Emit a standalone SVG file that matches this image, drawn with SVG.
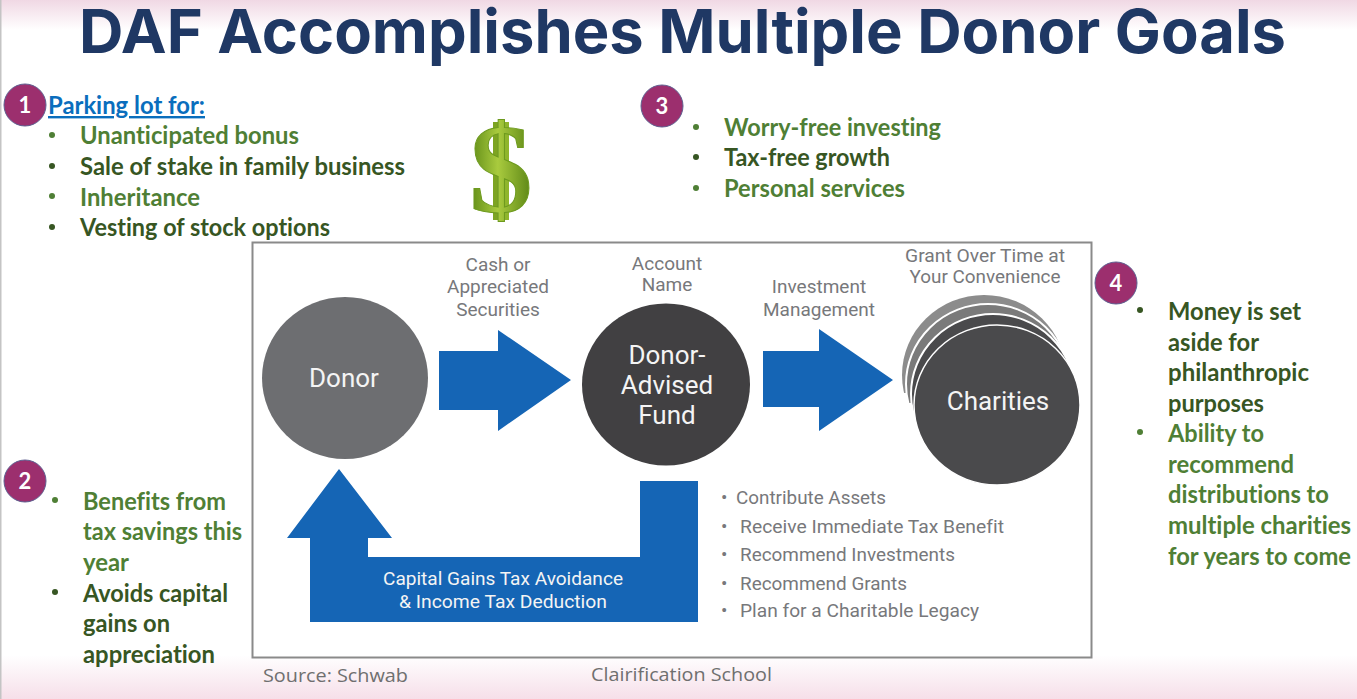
<svg xmlns="http://www.w3.org/2000/svg" width="1357" height="699" viewBox="0 0 1357 699">
<defs>
<linearGradient id="top" x1="0" y1="0" x2="0" y2="1"><stop offset="0" stop-color="#f0d8e4"/><stop offset="1" stop-color="#ffffff"/></linearGradient>
<linearGradient id="bot" x1="0" y1="0" x2="0" y2="1"><stop offset="0" stop-color="#ffffff"/><stop offset="1" stop-color="#f6dfe9"/></linearGradient>
<linearGradient id="gold" x1="0" y1="0" x2="1" y2="0"><stop offset="0" stop-color="#5e8a16"/><stop offset=".45" stop-color="#a9cb3e"/><stop offset="1" stop-color="#5a8414"/></linearGradient>
<clipPath id="c1"><rect x="890" y="285" width="200" height="108"/></clipPath>
<clipPath id="c2"><rect x="890" y="285" width="200" height="118"/></clipPath>
<clipPath id="c3"><rect x="890" y="285" width="200" height="127"/></clipPath>
<style>
text{font-variant-ligatures:none}
.b{font-family:"Lato","Noto Sans",sans-serif;font-weight:700;font-size:24px}
.l{fill:#4f7f35}.d{fill:#375623}
.num{font-family:"Lato","Noto Sans",sans-serif;font-weight:700;font-size:22px;fill:#fff;text-anchor:middle}
.badge{fill:#9c2f6e;stroke:#5f5f90;stroke-width:1}
.g{font-family:"Roboto","Liberation Sans",sans-serif;font-size:19px;fill:#77787b}
.w{font-family:"Roboto","Liberation Sans",sans-serif;fill:#f4f4f4}
.arrow{fill:#1565b5}
.src{font-family:"Open Sans","Noto Sans",sans-serif;font-size:19px;fill:#6f6f6f}
</style>
</defs>
<rect width="1357" height="699" fill="#fff"/>
<rect width="1357" height="30" fill="url(#top)"/>
<rect y="655" width="1357" height="44" fill="url(#bot)"/>
<rect x="0" y="0" width="1.5" height="699" fill="#c4c4c4"/>
<text x="79" y="53" font-family="Inter,'Noto Sans',sans-serif" font-weight="700" font-size="61" fill="#1f3864" textLength="1207" lengthAdjust="spacingAndGlyphs">DAF Accomplishes Multiple Donor Goals</text>

<g id="box"><rect x="252.500" y="242.500" width="839" height="415" fill="#fff" stroke="#8a8a8a" stroke-width="2"/></g>

<g id="badge-1"><circle class="badge" cx="25" cy="105" r="21"/><text class="num" x="25" y="113">1</text></g>
<g id="badge-2"><circle class="badge" cx="25" cy="481" r="21"/><text class="num" x="25" y="489">2</text></g>
<g id="badge-3"><circle class="badge" cx="662" cy="106" r="21"/><text class="num" x="662" y="114">3</text></g>
<g id="badge-4"><circle class="badge" cx="1116" cy="283" r="21"/><text class="num" x="1116" y="291">4</text></g>

<g id="list-1">
<text class="b" x="48" y="114" fill="#0a6ebd" text-decoration="underline" textLength="157" lengthAdjust="spacingAndGlyphs">Parking lot for:</text>
<circle class="l" cx="52" cy="135" r="3"/><text class="b l" x="80" y="144" textLength="219" lengthAdjust="spacingAndGlyphs">Unanticipated bonus</text>
<circle class="d" cx="52" cy="166" r="3"/><text class="b d" x="80" y="175" textLength="325" lengthAdjust="spacingAndGlyphs">Sale of stake in family business</text>
<circle class="l" cx="52" cy="196" r="3"/><text class="b l" x="80" y="206" textLength="120" lengthAdjust="spacingAndGlyphs">Inheritance</text>
<circle class="d" cx="52" cy="227" r="3"/><text class="b d" x="80" y="236" textLength="250" lengthAdjust="spacingAndGlyphs">Vesting of stock options</text>
</g>

<g id="dollar">
<rect x="493" y="122" width="5" height="98" fill="#7da422"/>
<rect x="503" y="122" width="6" height="98" fill="#8fb52c"/>
<text x="501" y="212" text-anchor="middle" font-family="'Liberation Serif',serif" font-weight="700" font-size="126" fill="url(#gold)" stroke="#6d9a1e" stroke-width="1">$</text></g>

<g id="list-3">
<circle class="l" cx="696" cy="127" r="3"/><text class="b l" x="724" y="136" textLength="217" lengthAdjust="spacingAndGlyphs">Worry-free investing</text>
<circle class="d" cx="696" cy="157" r="3"/><text class="b d" x="724" y="166" textLength="166" lengthAdjust="spacingAndGlyphs">Tax-free growth</text>
<circle class="l" cx="696" cy="188" r="3"/><text class="b l" x="724" y="197" textLength="181" lengthAdjust="spacingAndGlyphs">Personal services</text>
</g>

<g id="list-4">
<circle class="d" cx="1140" cy="310" r="3"/>
<text class="b d" x="1168" y="320" textLength="133" lengthAdjust="spacingAndGlyphs">Money is set</text>
<text class="b d" x="1168" y="351" textLength="91" lengthAdjust="spacingAndGlyphs">aside for</text>
<text class="b d" x="1168" y="381" textLength="141" lengthAdjust="spacingAndGlyphs">philanthropic</text>
<text class="b d" x="1168" y="412" textLength="96" lengthAdjust="spacingAndGlyphs">purposes</text>
<circle class="l" cx="1140" cy="432" r="3"/>
<text class="b l" x="1168" y="442" textLength="96" lengthAdjust="spacingAndGlyphs">Ability to</text>
<text class="b l" x="1168" y="473" textLength="126" lengthAdjust="spacingAndGlyphs">recommend</text>
<text class="b l" x="1168" y="503" textLength="161" lengthAdjust="spacingAndGlyphs">distributions to</text>
<text class="b l" x="1168" y="534" textLength="183" lengthAdjust="spacingAndGlyphs">multiple charities</text>
<text class="b l" x="1168" y="565" textLength="183" lengthAdjust="spacingAndGlyphs">for years to come</text>
</g>

<g id="list-2">
<circle class="l" cx="55" cy="500" r="3"/>
<text class="b l" x="83" y="510" textLength="143" lengthAdjust="spacingAndGlyphs">Benefits from</text>
<text class="b l" x="83" y="540" textLength="159" lengthAdjust="spacingAndGlyphs">tax savings this</text>
<text class="b l" x="83" y="571" textLength="46" lengthAdjust="spacingAndGlyphs">year</text>
<circle class="d" cx="55" cy="592" r="3"/>
<text class="b d" x="83" y="602" textLength="145" lengthAdjust="spacingAndGlyphs">Avoids capital</text>
<text class="b d" x="83" y="632" textLength="87" lengthAdjust="spacingAndGlyphs">gains on</text>
<text class="b d" x="83" y="663" textLength="132" lengthAdjust="spacingAndGlyphs">appreciation</text>
</g>

<g id="connectors">
<polygon class="arrow" points="439,351 498,351 498,330 571,380 498,431 498,410 439,410"/>
<polygon class="arrow" points="763,351 819,351 819,329 893,380 819,431 819,407 763,407"/>
<polygon class="arrow" points="339,469 392,538 368,538 368,557 640,557 640,481 698,481 698,622 310,622 310,538 287,538"/>
</g>

<g id="donor"><ellipse cx="345" cy="378" rx="83" ry="81" fill="#6d6e71"/><text class="w" x="344" y="387" font-size="26" text-anchor="middle">Donor</text></g>
<g id="fund"><ellipse cx="666" cy="384.500" rx="84" ry="81" fill="#414042"/>
<text class="w" x="667" y="364" font-size="26" text-anchor="middle">Donor-</text>
<text class="w" x="667" y="394" font-size="26" text-anchor="middle">Advised</text>
<text class="w" x="667" y="424" font-size="26" text-anchor="middle">Fund</text></g>
<g id="charities">
<ellipse cx="984" cy="375" rx="82" ry="80" fill="#8c8c8c" clip-path="url(#c1)"/>
<ellipse cx="988" cy="384" rx="82" ry="80" fill="#7a7a7a" stroke="#fff" stroke-width="2" clip-path="url(#c2)"/>
<ellipse cx="993" cy="394" rx="82" ry="80" fill="#4a4a4c" stroke="#fff" stroke-width="2" clip-path="url(#c3)"/>
<ellipse cx="997" cy="405" rx="83" ry="80" fill="#4a4a4c" stroke="#fff" stroke-width="1.500"/>
<text class="w" x="998" y="410" font-size="26" text-anchor="middle">Charities</text></g>

<g id="labels">
<text class="g" x="498" y="271" text-anchor="middle">Cash or</text>
<text class="g" x="498" y="293" text-anchor="middle">Appreciated</text>
<text class="g" x="498" y="316" text-anchor="middle">Securities</text>
<text class="g" x="667" y="270" text-anchor="middle">Account</text>
<text class="g" x="667" y="291" text-anchor="middle">Name</text>
<text class="g" x="819" y="293" text-anchor="middle">Investment</text>
<text class="g" x="819" y="316" text-anchor="middle">Management</text>
<text class="g" x="985" y="262" text-anchor="middle" textLength="160" lengthAdjust="spacingAndGlyphs">Grant Over Time at</text>
<text class="g" x="985" y="283" text-anchor="middle" textLength="151" lengthAdjust="spacingAndGlyphs">Your Convenience</text>
<text class="w" x="503" y="585" font-size="19" text-anchor="middle" textLength="240" lengthAdjust="spacingAndGlyphs">Capital Gains Tax Avoidance</text>
<text class="w" x="503" y="608" font-size="19" text-anchor="middle" textLength="208" lengthAdjust="spacingAndGlyphs">&amp; Income Tax Deduction</text>
<text class="g" x="721" y="504">•</text><text class="g" x="736" y="504" textLength="150" lengthAdjust="spacingAndGlyphs">Contribute Assets</text>
<text class="g" x="721" y="533">•</text><text class="g" x="740" y="533" textLength="264" lengthAdjust="spacingAndGlyphs">Receive Immediate Tax Benefit</text>
<text class="g" x="721" y="561">•</text><text class="g" x="740" y="561" textLength="215" lengthAdjust="spacingAndGlyphs">Recommend Investments</text>
<text class="g" x="721" y="590">•</text><text class="g" x="740" y="590" textLength="167" lengthAdjust="spacingAndGlyphs">Recommend Grants</text>
<text class="g" x="721" y="617">•</text><text class="g" x="740" y="617" textLength="239" lengthAdjust="spacingAndGlyphs">Plan for a Charitable Legacy</text>
<text class="src" x="263" y="682" textLength="145" lengthAdjust="spacingAndGlyphs">Source: Schwab</text>
<text class="src" x="591" y="681" textLength="181" lengthAdjust="spacingAndGlyphs">Clairification School</text>
</g>
</svg>
